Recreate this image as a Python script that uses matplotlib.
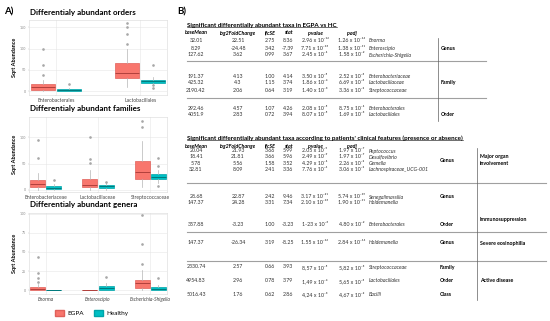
import matplotlib
matplotlib.use("Agg")
import matplotlib.pyplot as plt
from matplotlib.patches import Patch
from matplotlib.lines import Line2D

plt.rcParams["font.family"] = ["Lato", "DejaVu Sans"]

W, H = 550, 321
EGPA_C, EGPA_E, EGPA_M = "#F8766D", "#E0605A", "#B0403C"
HC_C, HC_E, HC_M = "#00BFC4", "#00A4A8", "#00797C"

# ---- panel A data: box stats (whislo, q1, med, q3, whishi) and outliers ----
order_cats = ["Enterobacterales", "Lactobacillales"]
order_egpa = [[0, 2.3, 9, 16, 27], [9, 30, 43, 66, 100]]
order_egpa_out = [[39, 61, 98], [110, 134, 150, 160]]
order_hc = [[0, 0, 2, 4.5, 7], [16, 20, 24, 27, 33]]
order_hc_out = [[16], [7, 14, 61]]
order_ticks = [0, 50, 100, 150]

family_cats = ["Enterobacteriaceae", "Lactobacillaceae", "Streptococcaceae"]
family_egpa = [[0, 5.6, 11, 18.5, 33], [0, 5.6, 9.3, 20.4, 37], [5.6, 20, 35, 56, 93]]
family_egpa_out = [[61, 96], [52, 59, 100], [120, 131]]
family_hc = [[0, 1.9, 4.5, 7.4, 11], [0, 3.7, 6.5, 9.3, 13], [13, 20, 24, 30, 37]]
family_hc_out = [[18.5], [15], [7.4, 46, 61]]
family_ticks = [0, 50, 100]

genus_cats = ["Enorma", "Enteroscipio", "Escherichia-Shigella"]
genus_egpa = [[0, 0, 2, 4, 8], [0, 0, 0, 0.4, 0.5], [0, 2.6, 9, 13, 26]]
genus_egpa_out = [[10.4, 15.6, 23, 43], [], [34, 61, 99]]
genus_hc = [[0, 0, 0, 0.4, 0.5], [0, 0, 3, 5.2, 10], [0, 0, 2, 4, 7]]
genus_hc_out = [[], [17], [16]]
genus_ticks = [0, 25, 50, 75, 100]

# ---- panel B data ----
cols = ["baseMean", "log2FoldChange", "lfcSE", "stat", "pvalue", "padj"]

t1_base = ["32.01", "8.29", "127.62", "191.37", "425.32", "2190.42", "292.46", "4051.9"]
t1_lfc = ["22.51", "-24.48", "3.62", "4.13", "4.3", "2.06", "4.57", "2.83"]
t1_se = ["2.75", "3.42", "0.99", "1.00", "1.15", "0.64", "1.07", "0.72"]
t1_stat = ["8.36", "-7.39", "3.67", "4.14", "3.74", "3.19", "4.26", "3.94"]
t1_p = [("2.96", -16), ("7.71", -13), ("2.45", -4), ("3.50", -5), ("1.86", -4),
        ("1.40", -3), ("2.08", -5), ("8.07", -5)]
t1_padj = [("1.26", -14), ("1.38", -11), ("1.58", -2), ("2.52", -3), ("6.69", -3),
           ("3.36", -2), ("8.75", -4), ("1.69", -3)]
t1_taxa = ["Enorma", "Enteroscipio", "Escherichia-Shigella", "Enterobacteriaceae",
           "Lactobacillaceae", "Streptococcaceae", "Enterobacterales", "Lactobacillales"]
t1_levels = [("Genus", 1), ("Family", 4), ("Order", 7)]

t2_base = ["20.04", "18.41", "5.78", "32.81", "28.68", "147.37", "357.88", "147.37",
           "2330.74", "4954.83", "5016.43"]
t2_lfc = ["21.93", "21.81", "5.56", "8.09", "22.87", "24.28", "-3.23", "-26.34",
          "2.57", "2.96", "1.76"]
t2_se = ["3.66", "3.66", "1.58", "2.41", "2.42", "3.31", "1.00", "3.19", "0.66", "0.78", "0.62"]
t2_stat = ["5.99", "5.96", "3.52", "3.36", "9.46", "7.34", "-3.23", "-8.25", "3.93", "3.79", "2.86"]
t2_p = [("2.05", -9), ("2.49", -9), ("4.29", -4), ("7.76", -4), ("3.17", -21), ("2.10", -13),
        ("1-23", -3), ("1.55", -16), ("8,57", -5), ("1,49", -4), ("4,24", -3)]
t2_padj = [("1.97", -7), ("1.97", -7), ("2.26", -2), ("3.06", -2), ("5.74", -19), ("1.90", -11),
           ("4.80", -2), ("2.84", -14), ("5,82", -3), ("5,65", -3), ("4,67", -2)]
t2_taxa = ["Peptococcus", "Desulfovibrio", "Gemella", "Lachnospiraceae_UCG-001",
           "Senegalimassilia", "Holdemanella", "Enterobacterales", "Holdemanella",
           "Streptococcaceae", "Lactobacillales", "Bacilli"]
t2_levels = [("Genus", 160), ("Genus", 197), ("Order", 224), ("Genus", 243),
             ("Family", 267), ("Order", 281), ("Class", 294)]
t2_groups = [("Major organ\ninvolvement", 160), ("Immunosuppression", 219),
             ("Severe eosinophilia", 243), ("Active disease", 281)]

SUP = str.maketrans("0123456789-", "⁰¹²³⁴⁵⁶⁷⁸⁹⁻")


def fx(x):
    return x / W


def fy(y):
    return 1 - y / H


def stats(vals, out):
    lo, q1, med, q3, hi = vals
    return dict(whislo=lo, q1=q1, med=med, q3=q3, whishi=hi, fliers=out)


def boxpanel(rect, title, cats, egpa, egpa_out, hc, hc_out, ticks, ylim, xlim, italic=False):
    l, t, r, b = rect
    ax = fig.add_axes([fx(l), fy(b), (r - l) / W, (b - t) / H])
    pos = list(range(1, len(cats) + 1))
    for vals, out, off, fc, ec, mc in [(egpa, egpa_out, -0.155, EGPA_C, EGPA_E, EGPA_M),
                                       (hc, hc_out, 0.155, HC_C, HC_E, HC_M)]:
        st = [stats(v, o) for v, o in zip(vals, out)]
        ax.bxp(st, positions=[p + off for p in pos], widths=0.29, patch_artist=True,
               showcaps=False,
               boxprops=dict(facecolor=fc, edgecolor=ec, linewidth=0.5),
               medianprops=dict(color=mc, linewidth=0.7),
               whiskerprops=dict(color="#b5b5b5", linewidth=0.5),
               flierprops=dict(marker="o", markersize=0.9, markerfacecolor="#a8a8a8",
                               markeredgecolor="#a8a8a8"))
    ax.set_xlim(*xlim)
    ax.set_ylim(*ylim)
    ax.set_xticks(pos)
    ax.set_xticklabels(cats, fontsize=3.6, color="#444444", style="italic" if italic else "normal")
    ax.set_yticks(ticks)
    ax.set_yticklabels([str(v) for v in ticks], fontsize=2.6, color="#888888")
    ax.tick_params(length=1, width=0.3, color="#bbbbbb", pad=1)
    ax.set_ylabel("Sqrt Abundance", fontsize=4, fontweight="bold", labelpad=2)
    ax.grid(True, color="#e6e6e6", linewidth=0.4)
    ax.set_axisbelow(True)
    for s in ax.spines.values():
        s.set_color("#d8d8d8")
        s.set_linewidth(0.4)
    fig.text(fx(30), fy(t - 8), title, fontsize=5.8, fontweight="bold", va="center")
    return ax


fig = plt.figure(figsize=(5.5, 3.21), dpi=100)

fig.text(fx(4), fy(12), "A)", fontsize=7, fontweight="bold", va="center")
boxpanel((29, 20, 167, 95), "Differentialy abundant orders", order_cats, order_egpa,
         order_egpa_out, order_hc, order_hc_out, order_ticks, (-9, 167), (0.68, 2.32))
boxpanel((29, 117, 167, 192), "Differentialy abundant families", family_cats, family_egpa,
         family_egpa_out, family_hc, family_hc_out, family_ticks, (-4, 139), (0.68, 3.32))
boxpanel((29, 213, 167, 294), "Differentialy abundant genera", genus_cats, genus_egpa,
         genus_egpa_out, genus_hc, genus_hc_out, genus_ticks, (-5, 101), (0.68, 3.32),
         italic=True)

fig.legend(handles=[Patch(facecolor=EGPA_C, edgecolor=EGPA_E, label="EGPA"),
                    Patch(facecolor=HC_C, edgecolor=HC_E, label="Healthy")],
           loc="center", bbox_to_anchor=(fx(92), fy(313)), ncol=2, frameon=False,
           fontsize=4.6, handlelength=1.4, handleheight=1.0, columnspacing=1.6,
           handletextpad=0.5)

# ---- panel B ----
fig.text(fx(177), fy(12), "B)", fontsize=7, fontweight="bold", va="center")
col_x = [196, 238, 270, 288, 315, 352]
TAXA_X = 369
FS = 3.8


def sci(m, e):
    return m + " x 10" + str(e).translate(SUP)


def hline(y, x0, x1):
    fig.add_artist(Line2D([fx(x0), fx(x1)], [fy(y), fy(y)], color="#a0a0a0", lw=0.8))


def vline(x, y0, y1):
    fig.add_artist(Line2D([fx(x), fx(x)], [fy(y0), fy(y1)], color="#606060", lw=0.5))


titles = []


def table(title, ty, rows_y, base, lfc, se, stat, p, padj, taxa):
    titles.append(fig.text(fx(187), fy(ty), title, fontsize=4.5, fontweight="bold", va="center"))
    for cx, c in zip(col_x, cols):
        fig.text(fx(cx), fy(ty + 8), c, fontsize=FS, fontweight="bold", style="italic",
                 ha="center", va="center")
    for i, y in enumerate(rows_y):
        vals = [base[i], lfc[i], se[i], stat[i], sci(*p[i]), sci(*padj[i])]
        for cx, v in zip(col_x, vals):
            fig.text(fx(cx), fy(y), v, fontsize=FS, ha="center", va="center", color="#333333")
        fig.text(fx(TAXA_X), fy(y), taxa[i], fontsize=FS, style="italic", va="center",
                 color="#333333")


t1_y = [41, 48, 55, 76, 83, 90, 108, 115]
table("Significant differentially abundant taxa in EGPA vs HC", 25, t1_y,
      t1_base, t1_lfc, t1_se, t1_stat, t1_p, t1_padj, t1_taxa)
for lab, i in t1_levels:
    fig.text(fx(441), fy(t1_y[i]), lab, fontsize=FS, fontweight="bold", va="center")
hline(61, 187, 486)
hline(98, 187, 486)
vline(438, 38, 121)

t2_y = [151, 157, 164, 170, 197, 203, 224, 243, 267, 281, 294]
table("Significant differentially abundant taxa according to patients' clinical features "
      "(presence or absence)", 138, t2_y,
      t2_base, t2_lfc, t2_se, t2_stat, t2_p, t2_padj, t2_taxa)
for lab, y in t2_levels:
    fig.text(fx(440), fy(y), lab, fontsize=FS, fontweight="bold", va="center")
for lab, y in t2_groups:
    fig.text(fx(480), fy(y), lab, fontsize=FS, fontweight="bold", va="center",
             linespacing=1.3)
hline(183, 187, 546)
hline(232, 187, 546)
hline(261, 187, 546)
vline(477, 148, 300)

# underline the table titles
fig.canvas.draw()
inv = fig.transFigure.inverted()
for t in titles:
    bb = t.get_window_extent()
    (x0, y0), (x1, _) = inv.transform([(bb.x0, bb.y0), (bb.x1, bb.y0)])
    fig.add_artist(Line2D([x0, x1], [y0 + 0.002, y0 + 0.002], color="black", lw=0.4))

fig.savefig("out.png", dpi=100)
